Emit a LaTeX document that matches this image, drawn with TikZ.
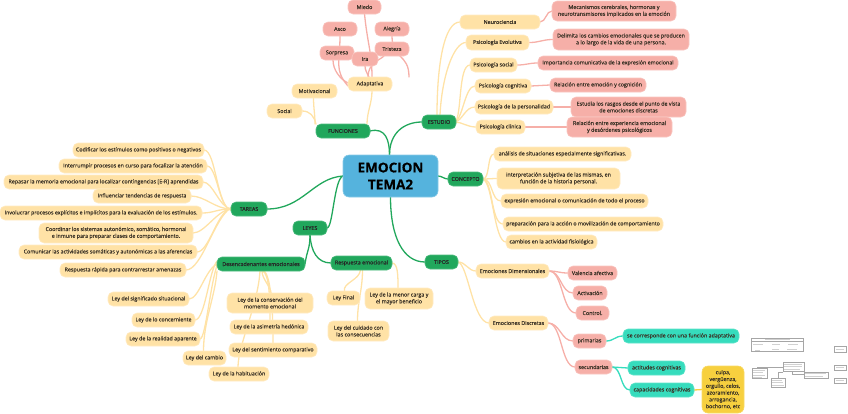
\documentclass[tikz,border=0pt]{standalone}
\usepackage{fontspec}
\setmainfont{Open Sans}[FakeBold=0.35]
\usetikzlibrary{backgrounds}
\definecolor{cyl}{HTML}{FFE2A6}
\definecolor{cylb}{HTML}{FFEBC4}
\definecolor{crd}{HTML}{F6AFA8}
\definecolor{crdb}{HTML}{F9C6C1}
\definecolor{cgr}{HTML}{21A75C}
\definecolor{cgrb}{HTML}{4DBB7E}
\definecolor{ctl}{HTML}{36DCBD}
\definecolor{cgd}{HTML}{F7D03F}
\definecolor{cbl}{HTML}{55B3DD}
\definecolor{ctx}{HTML}{3A3226}
\tikzset{
  base/.style={rounded corners=5pt,inner sep=0pt,outer sep=0pt,align=center,text=ctx,line width=.6pt,
    font=\fontsize{5.35}{6.8}\selectfont},
  yel/.style={base,fill=cyl,draw=cylb},
  red/.style={base,fill=crd,draw=crdb},
  grn/.style={base,fill=cgr,draw=cgrb,text=black!85,font=\fontsize{5.35}{6.8}\selectfont},
  grnl/.style={base,fill=cgr,draw=cgrb,text=black!85,font=\fontsize{5.35}{6.8}\selectfont},
  tea/.style={base,fill=ctl,draw=ctl!80!white},
  gld/.style={base,fill=cgd,draw=cgd!80!white,rounded corners=6pt},
  hub/.style={base,fill=cbl,draw=cbl!70!white,rounded corners=6pt,text=black,font=\fontsize{13.5}{17}\selectfont\bfseries},
  lgr/.style={draw=cgr,line width=1.3pt,line cap=round},
  lyl/.style={draw=cyl,line width=1.3pt,line cap=round},
  lrd/.style={draw=crd,line width=1.3pt,line cap=round},
  ltl/.style={draw=ctl,line width=1.3pt,line cap=round},
  lgd/.style={draw=cgd,line width=1.3pt,line cap=round},
  thumb/.style={draw=black!35,line width=.3pt},
  thumbt/.style={draw=black!18,line width=.6pt}
}
\newcommand\nd[7]{%
  \pgfmathsetlengthmacro\wdn{(#5-#3)*1pt}%
  \pgfmathsetlengthmacro\htn{(#6-#4)*1pt}%
  \node[#1,minimum width=\wdn,minimum height=\htn] (#2) at ({(#3+#5)/2},{(#4+#6)/2}) {#7};}
% connector: style, start, first control offset, second control offset, end
\newcommand\cn[5]{\draw[#1] (#2) .. controls +(#3) and +(#4) .. (#5);}
\newcommand\hc[4]{\draw[#1] (#2) .. controls +(#4,0) and +(-#4,0) .. (#3);}
\begin{document}
\begin{tikzpicture}[x=1pt,y=-1pt]
\useasboundingbox (0,0) rectangle (848,413);
% hub
\nd{hub}{main}{343}{155}{438}{197}{EMOCION\\TEMA2}
% level one
\nd{grn}{fun}{316}{124}{370}{138}{FUNCIONES}
\nd{grn}{est}{422}{115}{456}{129}{ESTUDIO}
\nd{grn}{tar}{231}{202}{267}{216}{TAREAS}
\nd{grn}{ley}{293}{221}{327}{235}{LEYES}
\nd{grn}{con}{448}{172}{483}{186}{CONCEPTO}
\nd{grn}{tip}{425}{255}{458}{269}{TIPOS}
\nd{grnl}{des}{217}{257}{305}{271}{Desencadenantes emocionales}
\nd{grnl}{res}{331}{256}{392}{270}{Respuesta emocional}
% funciones
\nd{red}{miedo}{348}{0}{381}{14}{Miedo}
\nd{red}{asco}{323}{22}{357}{36}{Asco}
\nd{red}{alegria}{375}{22}{409}{36}{Alegría}
\nd{red}{sorpresa}{320}{46}{354}{60}{Sorpresa}
\nd{red}{tristeza}{375}{42}{409}{56}{Tristeza}
\nd{red}{ira}{352}{52}{378}{66}{Ira}
\nd{yel}{adap}{348}{77}{392}{91}{Adaptativa}
\nd{yel}{moti}{292}{84}{337}{98}{Motivacional}
\nd{yel}{social}{267}{104}{302}{118}{Social}
% estudio
\nd{yel}{neuro}{460}{15}{540}{29}{Neurociencia}
\nd{yel}{evol}{466}{35}{529}{50}{Psicología Evolutiva}
\nd{yel}{psoc}{470}{58}{517}{72}{Psicología social}
\nd{yel}{cogn}{475}{79}{531}{93}{Psicología cognitiva}
\nd{yel}{pers}{475}{100}{553}{114}{Psicología de la personalidad}
\nd{yel}{clin}{476}{120}{525}{134}{Psicología clínica}
\nd{red}{meca}{552}{1}{676}{21}{Mecanismos cerebrales, hormonas y\\neurotransmisores implicados en la emoción}
\nd{red}{deli}{553}{29}{689}{50}{Delimita los cambios emocionales que se producen\\a lo largo de la vida de una persona.}
\nd{red}{impo}{538}{56}{678}{70}{Importancia comunicativa de la expresión emocional}
\nd{red}{rela}{550}{78}{646}{92}{Relación entre emoción y cognición}
\nd{red}{estu}{571}{97}{686}{117}{Estudia los rasgos desde el punto de vista\\de emociones discretas}
\nd{red}{exper}{567}{117}{672}{137}{Relación entre experiencia emocional\\y desórdenes psicológicos}
% tareas
\nd{yel}{t1}{73}{143}{204}{157}{Codificar los estímulos como positivos o negativos}
\nd{yel}{t2}{59}{159}{207}{173}{Interrumpir procesos en curso para focalizar la atención}
\nd{yel}{t3}{4}{175}{203}{189}{Repasar la memoria emocional para localizar contingencias [E-R] aprendidas}
\nd{yel}{t4}{93}{189}{191}{203}{Influenciar tendencias de respuesta}
\nd{yel}{t5}{0}{206}{202}{220}{Involucrar procesos explícitos e implícitos para la evaluación de los estímulos.}
\nd{yel}{t6}{39}{223}{193}{243}{Coordinar los sistemas autonómico, somático, hormonal\\e inmune para preparar clases de comportamiento.}
\nd{yel}{t7}{19}{245}{197}{259}{Comunicar las actividades somáticas y autonómicas a las aferencias}
\nd{yel}{t8}{60}{263}{186}{277}{Respuesta rápida para contrarrestar amenazas}
% leyes
\nd{yel}{l1}{108}{292}{189}{306}{Ley del significado situacional}
\nd{yel}{l2}{132}{313}{195}{327}{Ley de lo concerniente}
\nd{yel}{l3}{126}{332}{200}{346}{Ley de la realidad aparente}
\nd{yel}{l4}{183}{351}{226}{365}{Ley del cambio}
\nd{yel}{l5}{209}{367}{269}{381}{Ley de la habituación}
\nd{yel}{l6}{227}{293}{313}{313}{Ley de la conservación del\\momento emocional}
\nd{yel}{l7}{230}{320}{308}{334}{Ley de la asimetría hedónica}
\nd{yel}{l8}{229}{343}{317}{357}{Ley del sentimiento comparativo}
\nd{yel}{r1}{327}{291}{360}{305}{Ley Final}
\nd{yel}{r2}{328}{321}{389}{341}{Ley del cuidado con\\las consecuencias}
\nd{yel}{r3}{365}{288}{433}{309}{Ley de la menor carga y\\el mayor beneficio}
% concepto
\nd{yel}{c1}{494}{147}{631}{161}{análisis de situaciones especialmente significativas.}
\nd{yel}{c2}{497}{168}{620}{189}{interpretación subjetiva de las mismas, en\\función de la historia personal.}
\nd{yel}{c3}{501}{194}{648}{208}{expresión emocional o comunicación de todo el proceso}
\nd{yel}{c4}{503}{217}{663}{231}{preparación para la acción o movilización de comportamiento}
\nd{yel}{c5}{506}{235}{597}{249}{cambios en la actividad fisiológica}
% tipos
\nd{yel}{dim}{476}{264}{549}{278}{Emociones Dimensionales}
\nd{yel}{dis}{489}{316}{548}{330}{Emociones Discretas}
\nd{red}{val}{568}{266}{617}{280}{Valencia afectiva}
\nd{red}{act}{573}{286}{607}{300}{Activación}
\nd{red}{ctrl}{576}{306}{609}{320}{Control.}
\nd{red}{pri}{573}{334}{606}{348}{primarias}
\nd{red}{sec}{575}{360}{612}{374}{secundarias}
\nd{tea}{corr}{623}{329}{739}{343}{se corresponde con una función adaptativa}
\nd{tea}{acti}{628}{361}{685}{375}{actitudes cognitivas}
\nd{tea}{capa}{630}{383}{694}{397}{capacidades cognitivas}
\nd{gld}{culpa}{702}{366}{744}{413}{culpa,\\vergüenza,\\orgullo, celos,\\azoramiento,\\arrogancia,\\bochorno, etc}
\begin{scope}[on background layer]
  % hub branches
  \cn{lgr}{[xshift=-1pt]main.north}{0,-14}{16,-4}{fun.east}
  \cn{lgr}{[xshift=-1pt]main.north}{0,-22}{-18,0}{est.west}
  \cn{lgr}{main.west}{-30,2}{36,0}{tar.east}
  \cn{lgr}{main.west}{-9,3}{6,0}{ley.east}
  \hc{lgr}{main.east}{con.west}{4}
  \cn{lgr}{main.south}{0,40}{-22,0}{tip.west}
  \cn{lgr}{ley.south}{0,14}{2,-14}{des.east}
  \cn{lgr}{ley.south}{1,16}{-14,0}{res.west}
  % funciones
  \cn{lyl}{[xshift=24pt]fun.north}{0,-12}{0,12}{[xshift=2pt]adap.south}
  \cn{lyl}{[xshift=-28pt]fun.north}{0,-10}{0,10}{[xshift=-1pt]moti.south}
  \cn{lyl}{social.east}{8,0}{-2,-8}{[xshift=-27pt]fun.north}
  \cn{lrd}{miedo.south}{3,30}{0,-24}{[xshift=2pt]adap.north}
  \cn{lrd}{asco.south}{0,26}{-14,-16}{[yshift=-2pt]adap.west}
  \cn{lrd}{[xshift=-4pt]sorpresa.south}{0,10}{-8,-4}{[yshift=1pt]adap.west}
  \cn{lrd}{ira.south}{0,4}{-2,-4}{[xshift=-1pt]adap.north}
  \cn{lrd}{[xshift=-8pt]tristeza.south}{-4,4}{0,-14}{[xshift=-2pt]adap.north}
  \cn{lrd}{alegria.south}{0,24}{0,-24}{[xshift=17pt]adap.north east}
  % estudio
  \cn{lyl}{[xshift=-2pt]est.north}{0,-50}{-16,0}{neuro.west}
  \cn{lyl}{[xshift=1pt]est.north}{2,-40}{-12,0}{evol.west}
  \cn{lyl}{[xshift=-1pt]est.east}{7,-5}{-12,0}{psoc.west}
  \cn{lyl}{[xshift=-1pt]est.east}{8,-4}{-10,0}{cogn.west}
  \cn{lyl}{[xshift=-1pt]est.east}{8,-2}{-10,0}{pers.west}
  \cn{lyl}{[xshift=-1pt]est.east}{7,0}{-9,0}{clin.west}
  \hc{lrd}{neuro.east}{meca.west}{6}
  \hc{lrd}{evol.east}{deli.west}{11}
  \hc{lrd}{psoc.east}{impo.west}{10}
  \hc{lrd}{cogn.east}{rela.west}{10}
  \hc{lrd}{pers.east}{estu.west}{9}
  \hc{lrd}{clin.east}{exper.west}{20}
  % tareas
  \cn{lyl}{t1.east}{12,0}{-14,-2}{[yshift=-1pt]tar.west}
  \cn{lyl}{t2.east}{10,0}{-12,-2}{[yshift=-1pt]tar.west}
  \cn{lyl}{t3.east}{10,0}{-12,-2}{tar.west}
  \cn{lyl}{t4.east}{14,0}{-16,0}{tar.west}
  \cn{lyl}{t5.east}{12,0}{-14,0}{tar.west}
  \cn{lyl}{t6.east}{12,0}{-14,1}{tar.west}
  \cn{lyl}{t7.east}{12,0}{-14,4}{[yshift=1pt]tar.west}
  \cn{lyl}{t8.east}{16,0}{-16,8}{[yshift=1pt]tar.west}
  % desencadenantes
  \cn{lyl}{l1.east}{10,0}{-12,6}{des.west}
  \cn{lyl}{l2.east}{10,0}{-8,10}{[yshift=3pt]des.west}
  \cn{lyl}{l3.east}{6,0}{-8,14}{[xshift=2pt,yshift=3pt]des.west}
  \cn{lyl}{[xshift=-1pt]l4.north}{0,-30}{-2,26}{[xshift=-44pt]des.south}
  \cn{lyl}{[xshift=-1pt]l5.north}{0,-22}{-2,34}{[xshift=-1pt]des.south}
  \cn{lyl}{[xshift=1pt]des.south}{0,8}{0,-6}{[xshift=1pt]l6.north}
  \cn{lyl}{[xshift=2pt]des.south}{6,4}{0,-24}{[xshift=1pt]l7.north}
  \cn{lyl}{[xshift=3pt]des.south}{8,6}{0,-22}{[xshift=0pt]l8.north}
  % respuesta
  \cn{lyl}{[xshift=-1pt]res.south}{-1,10}{-2,-8}{[xshift=1pt]r1.north}
  \cn{lyl}{[xshift=1pt]res.south}{0,20}{0,-20}{[xshift=-1pt]r2.north}
  \cn{lyl}{res.east}{6,0}{0,-12}{[xshift=-1pt]r3.north}
  % concepto
  \hc{lyl}{con.east}{c1.west}{7}
  \hc{lyl}{con.east}{c2.west}{5}
  \hc{lyl}{con.east}{c3.west}{10}
  \cn{lyl}{con.east}{10,2}{-12,0}{c4.west}
  \cn{lyl}{con.east}{10,4}{-12,0}{c5.west}
  % tipos
  \hc{lyl}{tip.east}{dim.west}{8}
  \cn{lyl}{tip.east}{10,2}{-16,0}{dis.west}
  \hc{lrd}{dim.east}{val.west}{9}
  \hc{lrd}{dim.east}{act.west}{12}
  \hc{lrd}{dim.east}{ctrl.west}{14}
  \hc{lrd}{dis.east}{pri.west}{12}
  \hc{lrd}{dis.east}{sec.west}{14}
  \hc{ltl}{pri.east}{corr.west}{8}
  \hc{ltl}{sec.east}{acti.west}{8}
  \hc{ltl}{sec.east}{capa.west}{10}
  \hc{lgd}{capa.east}{culpa.west}{4}
\end{scope}
% small inset picture at lower right
\begin{scope}
  \draw[thumb] (751,338) rectangle (803,351);
  \draw[thumb] (751,341) -- (803,341);
  \draw[thumbt] (765,339.5) -- (790,339.5);
  \draw[thumbt] (753,344.5) -- (763,344.5) (772,344.5) -- (780,344.5) (788,344.5) -- (798,344.5);
  \draw[thumbt] (755,350) -- (760,350) (772,349.5) -- (779,349.5) (787,349.5) -- (797,349.5);
  \draw[thumb] (834,346) rectangle (846,352);
  \draw[thumbt] (836,349) -- (844,349);
  \draw[thumb] (834,365) rectangle (846,370);
  \draw[thumbt] (836,367.5) -- (844,367.5);
  \draw[thumb] (834,378) rectangle (846,383);
  \draw[thumbt] (836,380.5) -- (844,380.5);
  \draw[thumb] (752,368) rectangle (767,378);
  \draw[thumbt] (753,370) -- (765,370) (753,372.5) -- (763,372.5) (753,375) -- (765,375) (753,377) -- (762,377);
  \draw[thumb] (783,362) rectangle (804,371);
  \draw[thumbt] (784,364) -- (802,364) (784,366.5) -- (802,366.5) (784,369) -- (800,369);
  \draw[thumb] (804,372) rectangle (828,378);
  \draw[thumbt] (805,373.5) -- (826,373.5) (805,376) -- (823,376);
  \draw[thumb] (771,378) rectangle (785,387);
  \draw[thumbt] (772,380) -- (782,380) (772,382.5) -- (783,382.5) (772,385) -- (784,385);
  \draw[thumb] (757,368) -- (757,367) -- (783,367);
  \draw[thumb] (778,378) -- (778,372) -- (783,372);
  \draw[thumb] (792,371) -- (792,374) -- (804,374);
\end{scope}
\end{tikzpicture}
\end{document}
